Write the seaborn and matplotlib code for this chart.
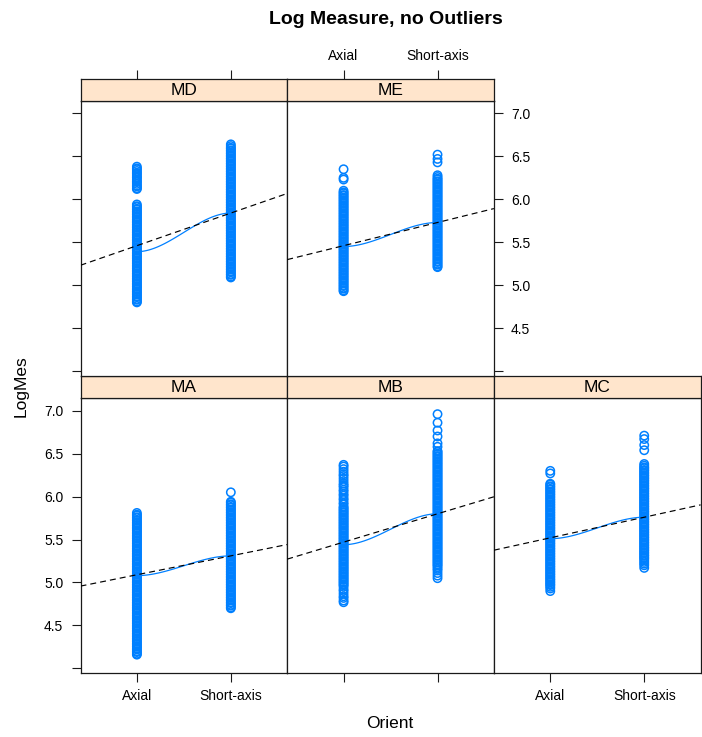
import numpy as np
import pandas as pd
import matplotlib
matplotlib.use("Agg")
import matplotlib.pyplot as plt
import seaborn as sns

sns.set_style("white")
plt.rcParams["font.family"] = ["Liberation Sans", "DejaVu Sans"]
plt.rcParams["text.color"] = "black"
plt.rcParams["lines.scale_dashes"] = False

# ---------------------------------------------------------------- data
orient_levels = ["Axial", "Short-axis"]
panel_names = ["MA", "MB", "MC", "MD", "ME"]

ma_axial = [4.16, 4.17, 4.19, 4.20, 4.22, 4.23, 4.25, 4.26, 4.28, 4.29, 4.31, 4.32,
            4.34, 4.35, 4.37, 4.38, 4.40, 4.41, 4.43, 4.44, 4.46, 4.47, 4.49, 4.50,
            4.52, 4.53, 4.55, 4.56, 4.58, 4.59, 4.61, 4.62, 4.64, 4.65, 4.67, 4.68,
            4.70, 4.71, 4.73, 4.74, 4.76, 4.77, 4.79, 4.80, 4.82, 4.83, 4.85, 4.86,
            4.88, 4.89, 4.91, 4.92, 4.94, 4.95, 4.97, 4.98, 5.00, 5.01, 5.03, 5.04,
            5.06, 5.07, 5.09, 5.10, 5.12, 5.13, 5.15, 5.16, 5.18, 5.19, 5.21, 5.22,
            5.24, 5.25, 5.27, 5.28, 5.30, 5.31, 5.33, 5.34, 5.36, 5.37, 5.39, 5.40,
            5.42, 5.43, 5.45, 5.46, 5.48, 5.49, 5.51, 5.52, 5.54, 5.55, 5.57, 5.58,
            5.60, 5.61, 5.63, 5.64, 5.66, 5.67, 5.69, 5.70, 5.72, 5.73, 5.75, 5.76,
            5.78, 5.79, 5.81]
ma_short = [4.70, 4.71, 4.73, 4.74, 4.76, 4.77, 4.79, 4.80, 4.82, 4.83, 4.85, 4.86,
            4.88, 4.89, 4.91, 4.92, 4.94, 4.95, 4.97, 4.98, 5.00, 5.01, 5.03, 5.04,
            5.06, 5.07, 5.09, 5.10, 5.12, 5.13, 5.15, 5.16, 5.18, 5.19, 5.21, 5.22,
            5.24, 5.25, 5.27, 5.28, 5.30, 5.31, 5.33, 5.34, 5.36, 5.37, 5.39, 5.40,
            5.42, 5.43, 5.45, 5.46, 5.48, 5.49, 5.51, 5.52, 5.54, 5.55, 5.57, 5.58,
            5.60, 5.61, 5.63, 5.64, 5.66, 5.67, 5.69, 5.70, 5.72, 5.73, 5.75, 5.76,
            5.78, 5.79, 5.81, 5.82, 5.84, 5.85, 5.87, 5.88, 5.90, 5.91, 5.93, 5.94,
            6.05]

mb_axial = [4.77, 4.79, 4.82, 4.84, 4.87, 4.90, 4.92, 4.95, 4.97, 4.98, 5.00, 5.01,
            5.03, 5.04, 5.06, 5.07, 5.09, 5.10, 5.12, 5.13, 5.15, 5.16, 5.18, 5.19,
            5.21, 5.22, 5.24, 5.25, 5.27, 5.28, 5.30, 5.31, 5.33, 5.34, 5.36, 5.37,
            5.39, 5.40, 5.42, 5.43, 5.45, 5.46, 5.48, 5.49, 5.51, 5.52, 5.54, 5.55,
            5.57, 5.58, 5.60, 5.61, 5.63, 5.64, 5.66, 5.67, 5.69, 5.70, 5.72, 5.73,
            5.75, 5.76, 5.78, 5.79, 5.81, 5.82, 5.84, 5.85, 5.87, 5.88, 5.91, 5.93,
            5.96, 5.98, 6.01, 6.03, 6.06, 6.08, 6.11, 6.13, 6.15, 6.18, 6.21, 6.24,
            6.26, 6.29, 6.32, 6.35, 6.37]
mb_short = [5.05, 5.08, 5.11, 5.14, 5.16, 5.18, 5.20, 5.21, 5.23, 5.24, 5.26, 5.27,
            5.29, 5.30, 5.32, 5.33, 5.35, 5.36, 5.38, 5.39, 5.41, 5.42, 5.44, 5.45,
            5.47, 5.48, 5.50, 5.51, 5.53, 5.54, 5.56, 5.57, 5.59, 5.60, 5.62, 5.63,
            5.65, 5.66, 5.68, 5.69, 5.71, 5.72, 5.74, 5.75, 5.77, 5.78, 5.80, 5.81,
            5.83, 5.84, 5.86, 5.87, 5.89, 5.90, 5.92, 5.93, 5.95, 5.96, 5.98, 5.99,
            6.01, 6.02, 6.04, 6.05, 6.07, 6.08, 6.10, 6.11, 6.13, 6.14, 6.16, 6.17,
            6.19, 6.20, 6.22, 6.23, 6.25, 6.26, 6.28, 6.29, 6.31, 6.32, 6.34, 6.35,
            6.37, 6.38, 6.40, 6.41, 6.43, 6.44, 6.46, 6.47, 6.49, 6.50, 6.52, 6.53,
            6.58, 6.62, 6.70, 6.77, 6.86, 6.96]

mc_axial = [4.90, 4.93, 4.95, 4.97, 4.98, 5.00, 5.01, 5.03, 5.04, 5.06, 5.07, 5.09,
            5.10, 5.12, 5.13, 5.15, 5.16, 5.18, 5.19, 5.21, 5.22, 5.24, 5.25, 5.27,
            5.28, 5.30, 5.31, 5.33, 5.34, 5.36, 5.37, 5.39, 5.40, 5.42, 5.43, 5.45,
            5.46, 5.48, 5.49, 5.51, 5.52, 5.54, 5.55, 5.57, 5.58, 5.60, 5.61, 5.63,
            5.64, 5.66, 5.67, 5.69, 5.70, 5.72, 5.73, 5.75, 5.76, 5.78, 5.79, 5.81,
            5.82, 5.84, 5.85, 5.87, 5.88, 5.90, 5.91, 5.93, 5.94, 5.96, 5.97, 5.99,
            6.00, 6.02, 6.03, 6.05, 6.06, 6.08, 6.09, 6.11, 6.12, 6.14, 6.15, 6.27,
            6.30]
mc_short = [5.17, 5.20, 5.22, 5.24, 5.26, 5.28, 5.29, 5.31, 5.32, 5.34, 5.35, 5.37,
            5.38, 5.40, 5.41, 5.43, 5.44, 5.46, 5.47, 5.49, 5.50, 5.52, 5.53, 5.55,
            5.56, 5.58, 5.59, 5.61, 5.62, 5.64, 5.65, 5.67, 5.68, 5.70, 5.71, 5.73,
            5.74, 5.76, 5.77, 5.79, 5.80, 5.82, 5.83, 5.85, 5.86, 5.88, 5.89, 5.91,
            5.92, 5.94, 5.95, 5.97, 5.98, 6.00, 6.01, 6.03, 6.04, 6.06, 6.07, 6.09,
            6.10, 6.12, 6.13, 6.15, 6.16, 6.18, 6.19, 6.21, 6.22, 6.24, 6.25, 6.27,
            6.28, 6.30, 6.31, 6.33, 6.34, 6.36, 6.38, 6.54, 6.60, 6.67, 6.71]

md_axial = [4.80, 4.81, 4.83, 4.84, 4.86, 4.87, 4.89, 4.90, 4.92, 4.93, 4.95, 4.96,
            4.98, 4.99, 5.01, 5.02, 5.04, 5.05, 5.07, 5.08, 5.10, 5.11, 5.13, 5.14,
            5.16, 5.17, 5.19, 5.20, 5.22, 5.23, 5.25, 5.26, 5.28, 5.29, 5.31, 5.32,
            5.34, 5.35, 5.37, 5.38, 5.40, 5.41, 5.43, 5.44, 5.46, 5.47, 5.49, 5.50,
            5.52, 5.53, 5.55, 5.56, 5.58, 5.59, 5.61, 5.62, 5.64, 5.65, 5.67, 5.68,
            5.70, 5.71, 5.73, 5.74, 5.76, 5.77, 5.79, 5.80, 5.82, 5.83, 5.85, 5.86,
            5.88, 5.89, 5.91, 5.92, 5.94, 6.12, 6.13, 6.15, 6.16, 6.18, 6.20, 6.21,
            6.23, 6.25, 6.26, 6.28, 6.30, 6.31, 6.33, 6.35, 6.36, 6.38]
md_short = [5.09, 5.10, 5.12, 5.13, 5.15, 5.16, 5.18, 5.19, 5.21, 5.22, 5.24, 5.25,
            5.27, 5.28, 5.30, 5.31, 5.33, 5.34, 5.36, 5.37, 5.39, 5.40, 5.42, 5.43,
            5.45, 5.46, 5.48, 5.49, 5.51, 5.52, 5.54, 5.55, 5.57, 5.58, 5.60, 5.61,
            5.63, 5.64, 5.66, 5.67, 5.69, 5.70, 5.72, 5.73, 5.75, 5.76, 5.78, 5.79,
            5.81, 5.82, 5.84, 5.85, 5.87, 5.88, 5.90, 5.91, 5.93, 5.94, 5.96, 5.97,
            5.99, 6.00, 6.02, 6.03, 6.05, 6.06, 6.08, 6.09, 6.11, 6.12, 6.14, 6.15,
            6.17, 6.18, 6.20, 6.21, 6.23, 6.24, 6.26, 6.27, 6.29, 6.30, 6.32, 6.33,
            6.35, 6.36, 6.38, 6.39, 6.41, 6.42, 6.44, 6.45, 6.47, 6.48, 6.50, 6.51,
            6.53, 6.54, 6.56, 6.57, 6.59, 6.60, 6.62, 6.64]

me_axial = [4.93, 4.94, 4.96, 4.97, 4.99, 5.00, 5.02, 5.03, 5.05, 5.06, 5.08, 5.09,
            5.11, 5.12, 5.14, 5.15, 5.17, 5.18, 5.20, 5.21, 5.23, 5.24, 5.26, 5.27,
            5.29, 5.30, 5.32, 5.33, 5.35, 5.36, 5.38, 5.39, 5.41, 5.42, 5.44, 5.45,
            5.47, 5.48, 5.50, 5.51, 5.53, 5.54, 5.56, 5.57, 5.59, 5.60, 5.62, 5.63,
            5.65, 5.66, 5.68, 5.69, 5.71, 5.72, 5.74, 5.75, 5.77, 5.78, 5.80, 5.81,
            5.83, 5.84, 5.86, 5.87, 5.89, 5.90, 5.92, 5.93, 5.95, 5.96, 5.98, 5.99,
            6.01, 6.02, 6.04, 6.05, 6.07, 6.08, 6.10, 6.23, 6.25, 6.35]
me_short = [5.21, 5.22, 5.24, 5.25, 5.27, 5.28, 5.30, 5.31, 5.33, 5.34, 5.36, 5.37,
            5.39, 5.40, 5.42, 5.43, 5.45, 5.46, 5.48, 5.49, 5.51, 5.52, 5.54, 5.55,
            5.57, 5.58, 5.60, 5.61, 5.63, 5.64, 5.66, 5.67, 5.69, 5.70, 5.72, 5.73,
            5.75, 5.76, 5.78, 5.79, 5.81, 5.82, 5.84, 5.85, 5.87, 5.88, 5.90, 5.91,
            5.93, 5.94, 5.96, 5.97, 5.99, 6.00, 6.02, 6.03, 6.05, 6.06, 6.08, 6.09,
            6.11, 6.12, 6.14, 6.15, 6.17, 6.18, 6.20, 6.21, 6.23, 6.24, 6.26, 6.28,
            6.43, 6.47, 6.52]

# fitted group levels per panel (order: MA, MB, MC, MD, ME)
lm_axial = [5.09, 5.47, 5.52, 5.46, 5.46]
lm_short = [5.31, 5.80, 5.76, 5.84, 5.73]
smooth_axial = [5.08, 5.44, 5.51, 5.39, 5.45]

y_ticks = [4.0, 4.5, 5.0, 5.5, 6.0, 6.5, 7.0]
y_tick_labels = ["", "4.5", "5.0", "5.5", "6.0", "6.5", "7.0"]

groups = {
    "MA": (ma_axial, ma_short), "MB": (mb_axial, mb_short),
    "MC": (mc_axial, mc_short), "MD": (md_axial, md_short),
    "ME": (me_axial, me_short),
}
rows = []
for name, (ax_vals, sh_vals) in groups.items():
    rows += [(name, orient_levels[0], 1, v) for v in ax_vals]
    rows += [(name, orient_levels[1], 2, v) for v in sh_vals]
df = pd.DataFrame(rows, columns=["Panel", "Orient", "pos", "LogMes"])

# ---------------------------------------------------------------- layout
W, H = 702, 737
fig = plt.figure(figsize=(W / 100, H / 100), dpi=100, facecolor="white")


def box(x0, y0, x1, y1):
    return [x0 / W, 1 - y1 / H, (x1 - x0) / W, (y1 - y0) / H]


col_x = [80.5, 287.2, 493.9, 700.6]
row_y = {"top": (78.8, 100.8, 375.8), "bottom": (376.1, 398.1, 673.1)}
placement = {"MA": ("bottom", 0), "MB": ("bottom", 1), "MC": ("bottom", 2),
             "MD": ("top", 0), "ME": ("top", 1)}

XLIM = (0.4, 2.6)
YLIM = (3.945, 7.147)
BLUE = "#0080ff"
EDGE = "#1a1a1a"
TICK_LEN = 6.4
FS_TICK = 10

for i, name in enumerate(panel_names):
    row, col = placement[name]
    s_top, p_top, p_bot = row_y[row]
    x0, x1 = col_x[col], col_x[col + 1]

    ax = fig.add_axes(box(x0, p_top, x1, p_bot))
    sub = df[df["Panel"] == name]
    sns.scatterplot(data=sub, x="pos", y="LogMes", ax=ax, color=BLUE,
                    marker="o", s=36, linewidth=1.1, legend=False, zorder=2)
    for coll in ax.collections:
        coll.set_facecolor("none")
        coll.set_edgecolor(BLUE)

    # least-squares line through the two group levels, across the panel
    a, b = lm_axial[i], lm_short[i]
    xs = np.array(XLIM)
    ax.plot(xs, a + (b - a) * (xs - 1), color="black", lw=0.85,
            dashes=(4.3, 2.9), zorder=4)
    # loess-type smooth between the two orientations
    t = np.linspace(0, 1, 60)
    s0 = smooth_axial[i]
    ax.plot(1 + t, s0 + (b - s0) * (3 * t ** 2 - 2 * t ** 3), color=BLUE,
            lw=0.9, zorder=3)

    ax.set_xlim(*XLIM)
    ax.set_ylim(*YLIM)
    ax.set_xticks([1, 2])
    ax.set_xticklabels(orient_levels)
    ax.set_yticks(y_ticks)
    ax.set_yticklabels(y_tick_labels)
    ax.set_xlabel("")
    ax.set_ylabel("")
    for sp in ax.spines.values():
        sp.set_visible(True)
        sp.set_color(EDGE)
        sp.set_linewidth(0.9)

    is_bottom = row == "bottom"
    ax.tick_params(axis="both", direction="out", length=TICK_LEN, width=0.8,
                   colors=EDGE, labelcolor="black", labelsize=FS_TICK,
                   left=(col == 0), labelleft=(col == 0 and is_bottom),
                   right=(name in ("ME", "MC")), labelright=(name == "ME"),
                   bottom=is_bottom, labelbottom=(name in ("MA", "MC")),
                   top=False, labeltop=False)
    ax.tick_params(axis="x", pad=5.2)
    ax.tick_params(axis="y", pad=6.0)

    # strip with the panel name
    sx = fig.add_axes(box(x0, s_top, x1, p_top))
    sx.set_facecolor("#ffe5cc")
    sx.set_xlim(*XLIM)
    sx.set_yticks([])
    sx.set_xticks([1, 2])
    sx.set_xticklabels(orient_levels)
    for sp in sx.spines.values():
        sp.set_visible(True)
        sp.set_color(EDGE)
        sp.set_linewidth(0.9)
    sx.tick_params(axis="x", direction="out", length=TICK_LEN, width=0.8,
                   colors=EDGE, labelcolor="black", labelsize=FS_TICK, pad=5.2,
                   bottom=False, labelbottom=False,
                   top=(row == "top"), labeltop=(name == "ME"))
    sx.text(0.5, 0.47, name, transform=sx.transAxes, ha="center",
            va="center", fontsize=12.5, color="black")

fig.text(386 / W, 1 - 24 / H, "Log Measure, no Outliers", ha="center",
         va="baseline", fontsize=14, fontweight="bold", color="black")
fig.text(390 / W, 1 - 724 / H, "Orient", ha="center", va="center",
         fontsize=12.5, color="black")
fig.text(21 / W, 1 - 386 / H, "LogMes", ha="center", va="center",
         rotation=90, fontsize=12.5, color="black")

fig.savefig("out.png", dpi=100, facecolor="white")
